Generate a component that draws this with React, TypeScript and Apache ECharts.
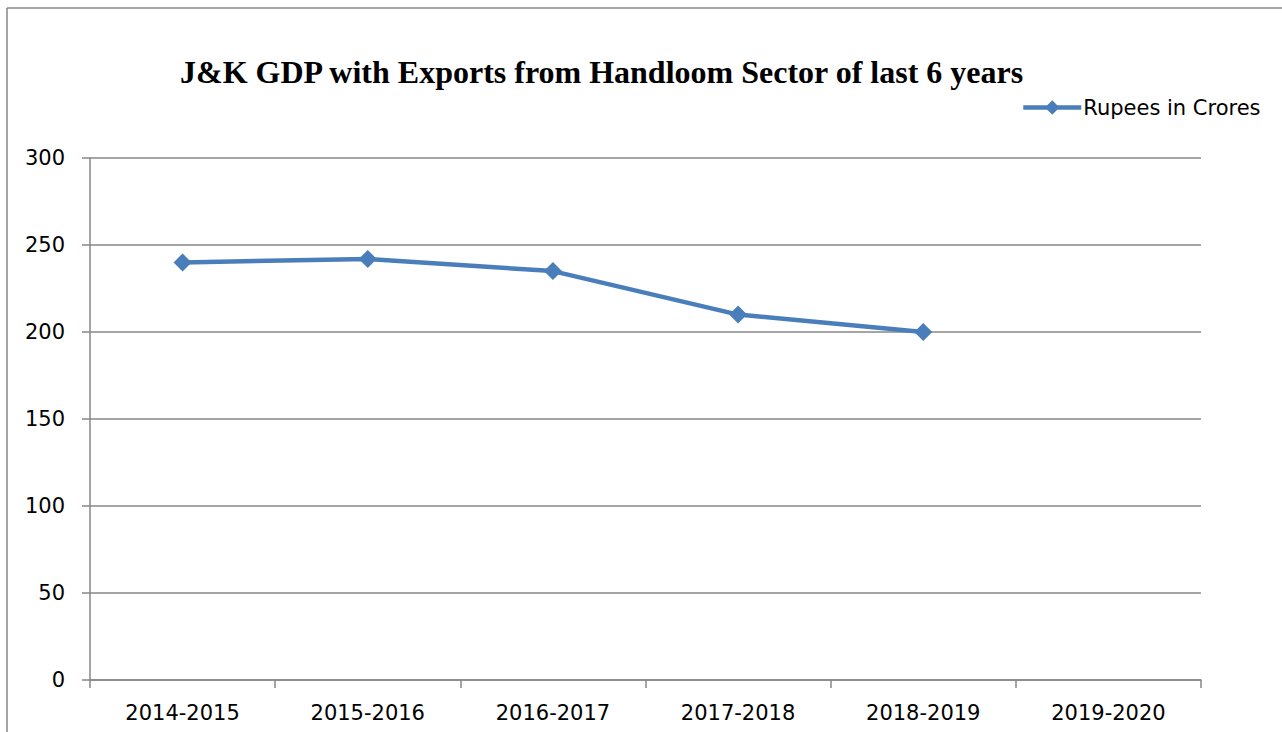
import React, { useEffect, useRef } from "react";
import * as echarts from "echarts";

const categories = ["2014-2015", "2015-2016", "2016-2017", "2017-2018", "2018-2019", "2019-2020"];
const rupeesInCrores: (number | null)[] = [240, 242, 235, 210, 200, null];
const seriesName = "Rupees in Crores";
const titleText = "J&K GDP with Exports from Handloom Sector of last 6 years";

export default function App() {
  const ref = useRef<HTMLDivElement>(null);
  useEffect(() => {
    if (!ref.current) return;
    const chart = echarts.init(ref.current, null, { renderer: "svg" });
    const gray = "#878787";
    const blue = "#4A7EBB";
    chart.setOption({
      animation: false,
      backgroundColor: "#ffffff",
      title: {
        text: titleText,
        left: 175,
        top: 51,
        textStyle: {
          fontFamily: "'Liberation Serif', 'Times New Roman', serif",
          fontWeight: "bold",
          fontSize: 32,
          color: "#000",
        },
      },
      legend: {
        left: 1016,
        top: 92,
        itemWidth: 58,
        itemHeight: 18,
        itemGap: 4,
        lineStyle: { width: 4.5, color: blue },
        itemStyle: { color: blue },
        textStyle: {
          fontFamily: "'DejaVu Sans', sans-serif",
          fontSize: 21,
          color: "#000",
          padding: [0, 0, 0, -3],
        },
        data: [seriesName],
      },
      grid: { left: 90, right: 81, top: 158, bottom: 52, containLabel: false },
      xAxis: {
        type: "category",
        data: categories,
        boundaryGap: true,
        axisLine: { show: true, lineStyle: { color: gray, width: 1.5 } },
        axisTick: { show: true, length: 8, interval: 0, lineStyle: { color: gray, width: 1.5 } },
        axisLabel: {
          interval: 0,
          margin: 22,
          fontFamily: "'DejaVu Sans', sans-serif",
          fontSize: 21,
          color: "#000",
        },
        splitLine: { show: false },
      },
      yAxis: {
        type: "value",
        min: 0,
        max: 300,
        interval: 50,
        axisLine: { show: true, lineStyle: { color: gray, width: 1.5 } },
        axisTick: { show: true, length: 8, lineStyle: { color: gray, width: 1.5 } },
        axisLabel: {
          margin: 25,
          fontFamily: "'DejaVu Sans', sans-serif",
          fontSize: 21,
          color: "#000",
        },
        splitLine: { show: true, lineStyle: { color: gray, width: 1.5 } },
      },
      graphic: [
        { type: "line", shape: { x1: 7, y1: 8, x2: 1282, y2: 8 }, style: { stroke: gray, lineWidth: 1.5 } },
        { type: "line", shape: { x1: 7, y1: 8, x2: 7, y2: 732 }, style: { stroke: gray, lineWidth: 1.5 } },
      ],
      series: [
        {
          name: seriesName,
          type: "line",
          data: rupeesInCrores,
          symbol: "diamond",
          symbolSize: 18,
          showSymbol: true,
          connectNulls: false,
          itemStyle: { color: blue },
          lineStyle: { color: blue, width: 4.5 },
        },
      ],
    });
    return () => chart.dispose();
  }, []);
  return (
    <div
      ref={ref}
      style={{ position: "fixed", left: 0, top: 0, width: 1282, height: 732 }}
    />
  );
}
